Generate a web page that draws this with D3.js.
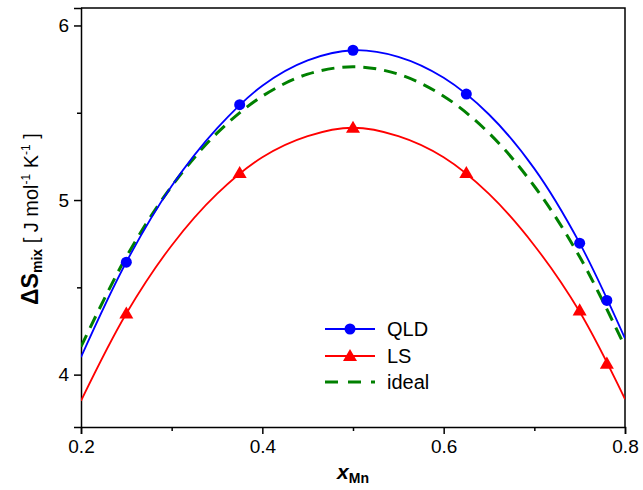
<!DOCTYPE html>
<html>
<head>
<meta charset="utf-8">
<script src="https://cdn.jsdelivr.net/npm/d3@7"></script>
<style>
  body { margin: 0; background: #fff; }
  svg { font-family: "Liberation Sans", Arial, sans-serif; }
</style>
</head>
<body>
<svg id="chart" width="643" height="490"></svg>
<script>
// fitted curves
const lineX = [0.2, 0.25, 0.3, 0.35, 0.4, 0.45, 0.5, 0.55, 0.6, 0.65, 0.7, 0.75, 0.8];
const qldLine = [4.10, 4.645, 5.08, 5.41, 5.655, 5.80, 5.858, 5.82, 5.70, 5.49, 5.18, 4.753, 4.207];
const lsLine = [3.85, 4.35, 4.74, 5.035, 5.245, 5.366, 5.414, 5.366, 5.245, 5.035, 4.74, 4.36, 3.86];
const idealLine = [4.16, 4.675, 5.079, 5.383, 5.595, 5.721, 5.763, 5.721, 5.595, 5.383, 5.079, 4.675, 4.16];

// calculated points
const pointX = [0.25, 0.375, 0.5, 0.625, 0.75, 0.78];
const qldPts = [4.644, 5.546, 5.858, 5.607, 4.753, 4.425];
const lsPts = [4.35, 5.155, 5.414, 5.155, 4.368, 4.063];

const xTicks = [0.2, 0.4, 0.6, 0.8];
const xMinor = [0.3, 0.5, 0.7];
const yTicks = [4, 5, 6];
const yMinor = [4.5, 5.5];

const svg = d3.select("#chart"),
      mLeft = 81, mRight = 625, mTop = 8, mBottom = 427;

const x = d3.scaleLinear().domain([0.2, 0.8]).range([mLeft, mRight]);
const y = d3.scaleLinear().domain([3.7, 6.1]).range([mBottom, mTop]);

svg.append("clipPath").attr("id", "clip")
  .append("rect").attr("x", mLeft).attr("y", mTop)
  .attr("width", mRight - mLeft).attr("height", mBottom - mTop);

// axes
svg.append("g")
  .attr("transform", `translate(0,${mBottom})`)
  .call(d3.axisBottom(x).tickValues(xTicks).tickSize(7).tickPadding(6).tickFormat(d3.format(".1f")))
  .call(g => g.selectAll("text").attr("font-size", 19).attr("font-family", "Liberation Sans, Arial").attr("fill", "#000"));
svg.append("g")
  .attr("transform", `translate(0,${mBottom})`)
  .call(d3.axisBottom(x).tickValues(xMinor).tickSize(4).tickFormat(""))
  .call(g => g.select(".domain").remove());

svg.append("g")
  .attr("transform", `translate(${mLeft},0)`)
  .call(d3.axisLeft(y).tickValues(yTicks).tickSize(7).tickPadding(5).tickFormat(d3.format("d")))
  .call(g => g.selectAll("text").attr("font-size", 19).attr("font-family", "Liberation Sans, Arial").attr("fill", "#000"));
svg.append("g")
  .attr("transform", `translate(${mLeft},0)`)
  .call(d3.axisLeft(y).tickValues(yMinor).tickSize(4).tickFormat(""))
  .call(g => g.select(".domain").remove());

svg.selectAll(".domain, .tick line").attr("stroke", "#000").attr("stroke-width", 1.5);

// frame top/right
svg.append("path")
  .attr("d", `M${mLeft},${mTop}H${mRight}V${mBottom}`)
  .attr("fill", "none").attr("stroke", "#000").attr("stroke-width", 1.5);

const line = d3.line()
  .x((d, i) => x(lineX[i]))
  .y(d => y(d))
  .curve(d3.curveCatmullRom.alpha(0.5));

const plot = svg.append("g").attr("clip-path", "url(#clip)");

plot.append("path").datum(idealLine).attr("d", line)
  .attr("fill", "none").attr("stroke", "#008000").attr("stroke-width", 3)
  .attr("stroke-dasharray", "13,8");
plot.append("path").datum(qldLine).attr("d", line)
  .attr("fill", "none").attr("stroke", "#0000ff").attr("stroke-width", 1.8);
plot.append("path").datum(lsLine).attr("d", line)
  .attr("fill", "none").attr("stroke", "#ff0000").attr("stroke-width", 1.8);

const tri = d3.symbol().type(d3.symbolTriangle).size(85);

svg.selectAll(".qld").data(qldPts).enter().append("circle")
  .attr("cx", (d, i) => x(pointX[i])).attr("cy", d => y(d))
  .attr("r", 5.5).attr("fill", "#0000ff");

svg.selectAll(".ls").data(lsPts).enter().append("path")
  .attr("d", tri)
  .attr("transform", (d, i) => `translate(${x(pointX[i])},${y(d) + 1})`)
  .attr("fill", "#ff0000");

// legend
const legend = svg.append("g");
const items = [
  { name: "QLD", color: "#0000ff", marker: "circle", yy: 329 },
  { name: "LS", color: "#ff0000", marker: "tri", yy: 356 },
  { name: "ideal", color: "#008000", marker: null, yy: 382 }
];
items.forEach(it => {
  const ln = legend.append("line")
    .attr("x1", 325).attr("x2", 375).attr("y1", it.yy).attr("y2", it.yy)
    .attr("stroke", it.color);
  if (it.marker === null) {
    ln.attr("stroke-width", 3).attr("stroke-dasharray", "13,10");
  } else {
    ln.attr("stroke-width", 1.8);
  }
  if (it.marker === "circle") {
    legend.append("circle").attr("cx", 350).attr("cy", it.yy).attr("r", 5.5).attr("fill", it.color);
  } else if (it.marker === "tri") {
    legend.append("path").attr("d", tri).attr("transform", `translate(350,${it.yy + 1})`).attr("fill", it.color);
  }
  legend.append("text").attr("x", 387).attr("y", it.yy + 7)
    .attr("font-size", 20).text(it.name);
});

// axis titles
const xt = svg.append("text").attr("x", 353).attr("y", 479).attr("text-anchor", "middle")
  .attr("font-weight", "bold");
xt.append("tspan").attr("font-size", 21).attr("font-style", "italic").text("x");
xt.append("tspan").attr("font-size", 14).attr("dy", 4).text("Mn");

const yt = svg.append("text").attr("transform", "translate(38,219) rotate(-90)")
  .attr("text-anchor", "middle");
yt.append("tspan").attr("font-size", 23).attr("font-weight", "bold").text("ΔS");
yt.append("tspan").attr("font-size", 14).attr("font-weight", "bold").attr("dy", 4).text("mix");
yt.append("tspan").attr("font-size", 20).attr("dy", -4).text(" [ J mol");
yt.append("tspan").attr("font-size", 12).attr("dy", -8).text("-1");
yt.append("tspan").attr("font-size", 20).attr("dy", 8).text(" K");
yt.append("tspan").attr("font-size", 12).attr("dy", -8).text("-1");
yt.append("tspan").attr("font-size", 20).attr("dy", 8).text(" ]");
</script>
</body>
</html>
